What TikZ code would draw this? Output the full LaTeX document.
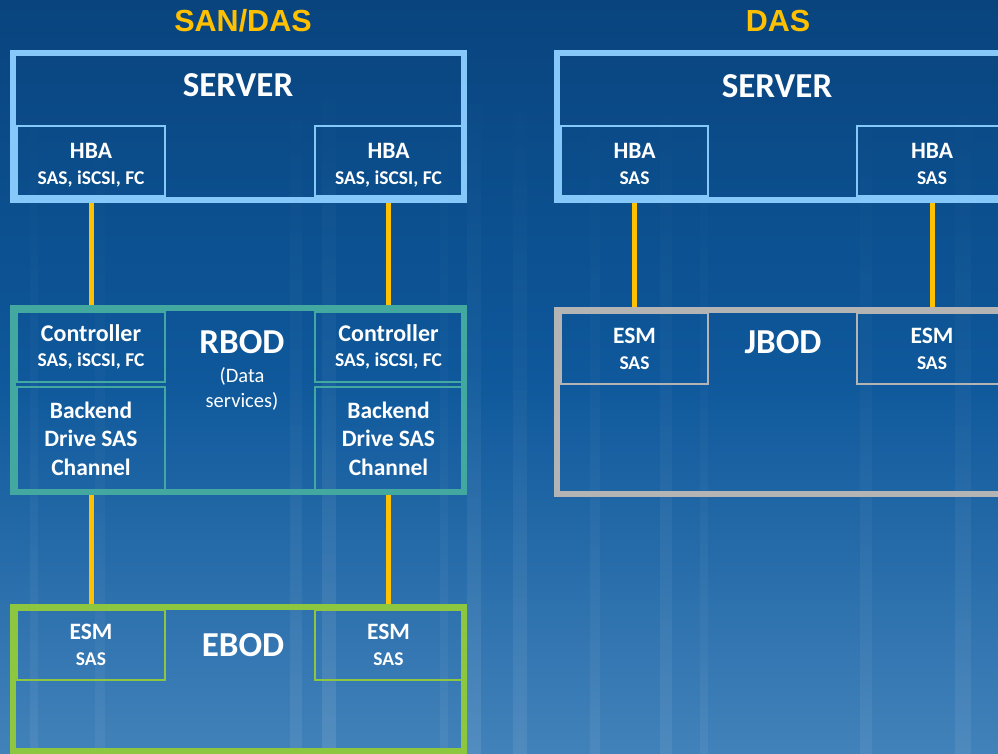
\documentclass[tikz,border=0pt]{standalone}
\usepackage{fontspec}
\setmainfont{Carlito}
\newfontfamily\headfont{Liberation Sans}
\usetikzlibrary{backgrounds,fadings}
\definecolor{srvblue}{RGB}{134,200,250}
\definecolor{rbodteal}{RGB}{66,168,160}
\definecolor{ebodgreen}{RGB}{141,198,63}
\definecolor{jbodgray}{RGB}{180,180,180}
\definecolor{linkyel}{RGB}{255,192,0}
\definecolor{bgtop}{RGB}{9,68,126}
\definecolor{bgmid}{RGB}{14,88,155}
\definecolor{bgbot}{RGB}{66,130,186}
\tikzset{
  frm/.style={draw,rectangle,line width=6pt,inner sep=0pt,minimum width=451pt},
  srvfrm/.style={frm,draw=srvblue},
  rbodfrm/.style={frm,draw=rbodteal},
  ebodfrm/.style={frm,draw=ebodgreen},
  jbodfrm/.style={frm,draw=jbodgray},
  sub/.style={draw,rectangle,line width=1.5pt,inner sep=0pt,align=center,text=white,
    minimum width=148pt,minimum height=70pt,font=\bfseries\fontsize{19.5}{26}\selectfont},
  hbasub/.style={sub,draw=srvblue,text height=48pt,text depth=0pt},
  ctlsub/.style={sub,draw=rbodteal,font=\bfseries\fontsize{19.5}{25}\selectfont},
  bksub/.style={sub,draw=rbodteal,minimum height=103pt,font=\bfseries\fontsize{23.5}{28.5}\selectfont},
  bigtxt/.style={anchor=base,text=white,font=\bfseries\fontsize{35}{40}\selectfont},
  headtxt/.style={anchor=base,text=linkyel,font=\headfont\bfseries\fontsize{30.5}{36}\selectfont},
  link/.style={draw=linkyel,line width=5pt},
  streak/.style={fill=white,path fading=north}
}

\begin{document}
\begin{tikzpicture}[x=1pt,y=-1pt]
  \useasboundingbox (0,0) rectangle (998,754);
  \clip (0,0) rectangle (998,754);

  % SAN/DAS side
  \node[headtxt] (hdL) at (243,32) {SAN/DAS};
  \node[srvfrm,minimum height=147pt] (srvL) at (238.5,126.5) {};
  \node[hbasub] (hbaL) at (91,161) {{\fontsize{23.5}{26}\selectfont HBA}\\SAS, iSCSI, FC};
  \node[hbasub,minimum width=147pt] (hbaR) at (388.5,161) {{\fontsize{23.5}{26}\selectfont HBA}\\SAS, iSCSI, FC};
  \node[bigtxt] (srvLtxt) at (238,97) {SERVER};

  \node[rbodfrm,minimum height=184pt] (rbod) at (238.5,400) {};
  \node[ctlsub] (ctrlL) at (91,347) {{\fontsize{24}{25}\selectfont Controller}\\SAS, iSCSI, FC};
  \node[ctlsub,minimum width=147pt] (ctrlR) at (388.5,347) {{\fontsize{24}{25}\selectfont Controller}\\SAS, iSCSI, FC};
  \node[bksub] (backL) at (91,438.5) {Backend\\Drive SAS\\Channel};
  \node[bksub,minimum width=147pt] (backR) at (388.5,438.5) {Backend\\Drive SAS\\Channel};
  \node[bigtxt] (rbodtxt) at (242,353) {RBOD};
  \node[text=white,align=center,inner sep=0pt,font=\fontsize{20.5}{25.5}\selectfont] (datatxt) at (242,389) {(Data\\services)};

  \node[ebodfrm,minimum height=144pt] (ebod) at (238.5,679) {};
  \node[sub,draw=ebodgreen] (esmL) at (91,645) {{\fontsize{23.5}{26}\selectfont ESM}\\SAS};
  \node[sub,draw=ebodgreen,minimum width=147pt] (esmR) at (388.5,645) {{\fontsize{23.5}{26}\selectfont ESM}\\SAS};
  \node[bigtxt] (ebodtxt) at (243,656) {EBOD};

  % DAS side
  \node[headtxt] (hdR) at (778,32) {DAS};
  \node[srvfrm,minimum height=147pt] (srvR) at (782.5,126.5) {};
  \node[hbasub,minimum width=147pt] (hbaJL) at (634.5,161) {{\fontsize{23.5}{26}\selectfont HBA}\\SAS};
  \node[hbasub,minimum width=150pt] (hbaJR) at (932,161) {{\fontsize{23.5}{26}\selectfont HBA}\\SAS};
  \node[bigtxt] (srvRtxt) at (777,98) {SERVER};

  \node[jbodfrm,minimum height=184pt] (jbod) at (782.5,402) {};
  \node[sub,draw=jbodgray,minimum width=147pt,minimum height=71pt] (esmJL) at (634.5,348.5) {{\fontsize{23.5}{26}\selectfont ESM}\\SAS};
  \node[sub,draw=jbodgray,minimum width=150pt,minimum height=71pt] (esmJR) at (932,348.5) {{\fontsize{23.5}{26}\selectfont ESM}\\SAS};
  \node[bigtxt] (jbodtxt) at (783,353) {JBOD};

  \begin{pgfonlayer}{background}
    \shade[top color=bgtop,bottom color=bgbot,middle color=bgmid] (0,0) rectangle (998,754);
    % light streaks of the backdrop
    \foreach \sx/\sw/\so in {30/8/0.06, 95/10/0.05, 290/12/0.07, 322/14/0.10, 440/8/0.05,
        467/14/0.09, 513/14/0.08, 590/10/0.06, 660/12/0.07, 700/8/0.05, 860/12/0.06, 955/16/0.07}
      \fill[streak,opacity=\so] (\sx,60) rectangle ++(\sw,694);
    \draw[link] (hbaL.south) -- (ctrlL.north);
    \draw[link] (hbaR.south) -- (ctrlR.north);
    \draw[link] (backL.south) -- (esmL.north);
    \draw[link] (backR.south) -- (esmR.north);
    \draw[link] (hbaJL.south) -- (esmJL.north);
    \draw[link] (hbaJR.south) -- (esmJR.north);
  \end{pgfonlayer}
\end{tikzpicture}
\end{document}
